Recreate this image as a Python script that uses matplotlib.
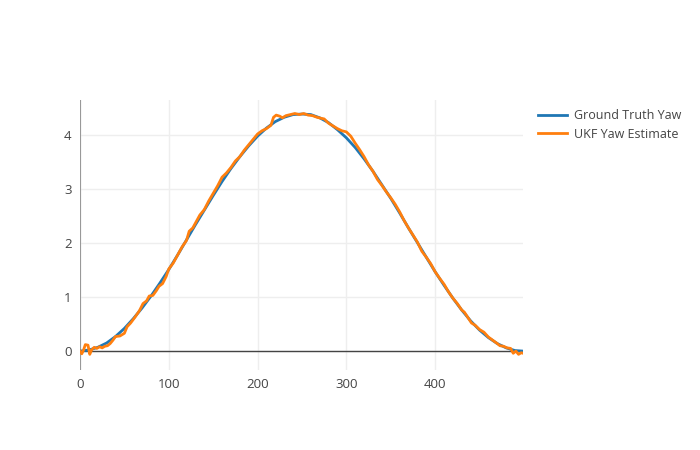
import matplotlib
matplotlib.use("Agg")
import matplotlib.pyplot as plt

gt_x = [0, 10, 20, 30, 40, 50, 60, 70, 80, 90, 100, 110, 120, 130, 140, 150, 160, 170, 180, 190,
        200, 210, 220, 230, 240, 250, 260, 270, 280, 290, 300, 310, 320, 330, 340, 350, 360, 370,
        380, 390, 400, 410, 420, 430, 440, 450, 460, 470, 480, 490, 499]
gt_y = [0.00, 0.02, 0.07, 0.15, 0.27, 0.42, 0.60, 0.80, 1.02, 1.26, 1.51, 1.78, 2.06, 2.34, 2.61,
        2.88, 3.14, 3.38, 3.60, 3.80, 3.98, 4.13, 4.25, 4.33, 4.38, 4.39, 4.38, 4.32, 4.23, 4.10,
        3.95, 3.77, 3.56, 3.33, 3.08, 2.83, 2.56, 2.28, 2.01, 1.74, 1.47, 1.22, 0.98, 0.76, 0.56,
        0.39, 0.25, 0.14, 0.06, 0.01, 0.00]

ukf_x = [0, 2, 4, 6, 9, 11, 13, 16, 19, 22, 25, 28, 31, 34, 37, 40, 45, 50, 53, 57, 62, 67, 71,
         75, 78, 82, 86, 89, 93, 97, 100, 105, 110, 115, 120, 123, 127, 131, 135, 140, 145, 150,
         155, 160, 165, 170, 175, 180, 185, 190, 195, 200, 205, 210, 215, 218, 221, 225, 228, 232,
         237, 242, 247, 252, 257, 262, 267, 272, 275, 280, 285, 290, 295, 300, 305, 310, 315, 320,
         325, 330, 335, 340, 345, 350, 355, 360, 365, 370, 375, 380, 385, 390, 395, 400, 405, 410,
         415, 420, 425, 430, 433, 437, 441, 445, 450, 455, 460, 465, 470, 473, 477, 481, 485, 488,
         491, 494, 497, 499]
ukf_y = [0.00, -0.05, 0.02, 0.12, 0.11, -0.06, 0.02, 0.07, 0.05, 0.08, 0.06, 0.09, 0.10, 0.14,
         0.20, 0.27, 0.28, 0.33, 0.45, 0.52, 0.63, 0.75, 0.88, 0.93, 1.02, 1.03, 1.12, 1.20, 1.25,
         1.38, 1.52, 1.63, 1.78, 1.93, 2.05, 2.22, 2.28, 2.40, 2.52, 2.62, 2.78, 2.92, 3.06, 3.22,
         3.30, 3.40, 3.52, 3.60, 3.72, 3.82, 3.92, 4.02, 4.08, 4.12, 4.18, 4.33, 4.37, 4.35, 4.32,
         4.36, 4.38, 4.40, 4.38, 4.40, 4.37, 4.36, 4.33, 4.31, 4.30, 4.22, 4.17, 4.12, 4.08, 4.06,
         3.98, 3.85, 3.73, 3.60, 3.45, 3.33, 3.18, 3.07, 2.95, 2.84, 2.72, 2.58, 2.42, 2.28, 2.15,
         2.02, 1.85, 1.74, 1.62, 1.47, 1.35, 1.24, 1.10, 0.98, 0.88, 0.76, 0.72, 0.62, 0.52, 0.48,
         0.40, 0.35, 0.26, 0.20, 0.14, 0.10, 0.09, 0.06, 0.05, -0.04, 0.00, -0.06, -0.03, -0.04]

series_names = ["Ground Truth Yaw", "UKF Yaw Estimate"]
x_ticks = [0, 100, 200, 300, 400]
y_ticks = [0, 1, 2, 3, 4]

plt.rcParams['font.family'] = ['Open Sans', 'DejaVu Sans']

fig = plt.figure(figsize=(7, 4.5), dpi=100)
ax = fig.add_axes([80 / 700, 80 / 450, 443 / 700, 270 / 450])

ax.plot(gt_x, gt_y, color='#1f77b4', lw=2, label=series_names[0], zorder=3)
ax.plot(ukf_x, ukf_y, color='#ff7f0e', lw=2, label=series_names[1], zorder=4)

ax.set_xlim(0, 499)
ax.set_ylim(-0.35, 4.65)
ax.set_xticks(x_ticks)
ax.set_yticks(y_ticks)
ax.grid(True, color='#eeeeee', lw=1)
ax.set_axisbelow(True)
for s in ax.spines.values():
    s.set_visible(False)
ax.axhline(0, color='#444444', lw=1, zorder=2)
ax.axvline(0, color='#999999', lw=1.5, zorder=2)
ax.tick_params(length=0, labelsize=9.5, colors='#444444', pad=6)

leg = ax.legend(loc='upper left', bbox_to_anchor=(538 / 700, 1 - 109 / 450),
                bbox_transform=fig.transFigure,
                frameon=False, fontsize=9, handlelength=2.35, handletextpad=0.5, labelspacing=0.45,
                borderaxespad=0, borderpad=0)
for t in leg.get_texts():
    t.set_color('#444444')

fig.savefig('out.png', dpi=100)
